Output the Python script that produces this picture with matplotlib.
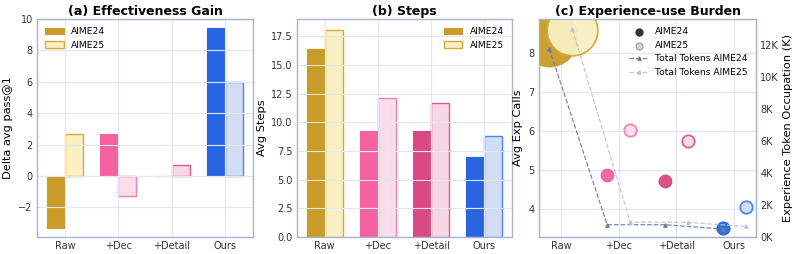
import matplotlib.pyplot as plt
import numpy as np

# data
methods = ['Raw', '+Dec', '+Detail', 'Ours']
gain_24 = [-3.3, 2.7, 0.0, 9.4]
gain_25 = [2.7, -1.3, 0.7, 6.0]
steps_24 = [16.4, 9.2, 9.25, 7.0]
steps_25 = [18.0, 12.1, 11.7, 8.8]
calls_24 = [8.4, 4.86, 4.71, 3.5]
calls_25 = [8.6, 6.02, 5.74, 4.04]
tokens_24 = [11.8, 0.77, 0.77, 0.5]   # K
tokens_25 = [13.0, 0.93, 0.92, 0.66]  # K
bubble_24 = [1650, 80, 80, 85]
bubble_25 = [1330, 80, 80, 80]

dark = ['#C99B28', '#F462A0', '#D94A84', '#2965E0']
light = ['#FAF0C2', '#FCDDE9', '#F7D7E4', '#D0DDF5']
edge = ['#D4AA3A', '#F27FAF', '#DB5A8F', '#4F82E8']

spine_c = '#A9B4CC'
grid_c = '#E4E7F0'

plt.rcParams['font.family'] = 'DejaVu Sans'
plt.rcParams['font.size'] = 7

fig = plt.figure(figsize=(7.97, 2.54), dpi=100)
ax_a = fig.add_axes([0.0464, 0.0669, 0.271, 0.858])
ax_b = fig.add_axes([0.3726, 0.0669, 0.2698, 0.858])
ax_c = fig.add_axes([0.6763, 0.0669, 0.2723, 0.858])

x = np.arange(len(methods))
w = 0.34
title_kw = dict(fontsize=9, fontweight='bold', pad=3)
leg_kw = dict(frameon=False, fontsize=6.6, handlelength=2.0)


def style(ax):
    for s in ax.spines.values():
        s.set_color(spine_c)
        s.set_linewidth(1.0)
    ax.grid(True, color=grid_c, linewidth=0.8)
    ax.tick_params(length=0, pad=3, labelsize=7, colors='#333333')
    ax.set_xticks(x)
    ax.set_xticklabels(methods)


# (a) effectiveness gain
for i in range(len(methods)):
    ax_a.bar(x[i] - w / 2, gain_24[i], w, color=dark[i], edgecolor=dark[i], linewidth=0.8,
             label='AIME24' if i == 0 else None)
    ax_a.bar(x[i] + w / 2, gain_25[i], w, color=light[i], edgecolor=edge[i], linewidth=1.0,
             label='AIME25' if i == 0 else None)
ax_a.axhline(0, color='#B8C0D4', linestyle='--', linewidth=0.8, zorder=0.5)
style(ax_a)
ax_a.set_ylim(-3.9, 10)
ax_a.set_ylabel('Delta avg pass@1', fontsize=8.2, labelpad=4)
ax_a.set_title('(a) Effectiveness Gain', **title_kw)
ax_a.legend(loc='upper left', **leg_kw)

# (b) steps
for i in range(len(methods)):
    ax_b.bar(x[i] - w / 2, steps_24[i], w, color=dark[i], edgecolor=dark[i], linewidth=0.8,
             label='AIME24' if i == 0 else None)
    ax_b.bar(x[i] + w / 2, steps_25[i], w, color=light[i], edgecolor=edge[i], linewidth=1.0,
             label='AIME25' if i == 0 else None)
style(ax_b)
ax_b.set_ylim(0, max(steps_25) * 1.055)
ax_b.set_ylabel('Avg Steps', fontsize=8.2, labelpad=3)
ax_b.set_title('(b) Steps', **title_kw)
ax_b.legend(loc='upper right', **leg_kw)

# (c) experience-use burden
off = 0.2
for i in range(len(methods)):
    ax_c.scatter(x[i] - off, calls_24[i], s=bubble_24[i], color=dark[i],
                 edgecolor=dark[i], linewidth=1.0, alpha=0.95, zorder=3)
    ax_c.scatter(x[i] + off, calls_25[i], s=bubble_25[i], color=light[i],
                 edgecolor=edge[i], linewidth=1.3, alpha=0.95, zorder=3)
style(ax_c)
ax_c.set_xlim(-0.38, 3.38)
ax_c.set_ylim(3.27, 8.88)
ax_c.set_yticks([4, 5, 6, 7, 8])
ax_c.set_ylabel('Avg Exp Calls', fontsize=8.2, labelpad=4)
ax_c.set_title('(c) Experience-use Burden', **title_kw)

ax_t = ax_c.twinx()
ax_t.plot(x - off, tokens_24, linestyle='--', color='#6C7A9C', marker='^', markersize=2.5,
          linewidth=0.9, alpha=0.9, label='Total Tokens AIME24')
ax_t.plot(x + off, tokens_25, linestyle='--', color='#BCC4D8', marker='^', markersize=2.5,
          linewidth=0.9, alpha=0.9, label='Total Tokens AIME25')
ax_t.set_ylim(0, max(tokens_25) * 1.05)
ax_t.set_yticks(np.arange(0, 13, 2))
ax_t.set_yticklabels([f'{v}K' for v in range(0, 13, 2)])
ax_t.tick_params(length=0, pad=3, labelsize=7, colors='#333333')
for s in ax_t.spines.values():
    s.set_color(spine_c)
ax_t.set_ylabel('Experience Token Occupation (K)', fontsize=8.2, labelpad=3)

h_24 = ax_c.scatter([], [], s=25, color='#333333', label='AIME24')
h_25 = ax_c.scatter([], [], s=25, color='#D6D6D6', edgecolor='#999999', linewidth=0.8, label='AIME25')
lines = ax_t.get_lines()
ax_t.legend([h_24, h_25] + lines, ['AIME24', 'AIME25', 'Total Tokens AIME24', 'Total Tokens AIME25'],
            loc='upper right', **leg_kw)

fig.savefig('out.png', dpi=100)
